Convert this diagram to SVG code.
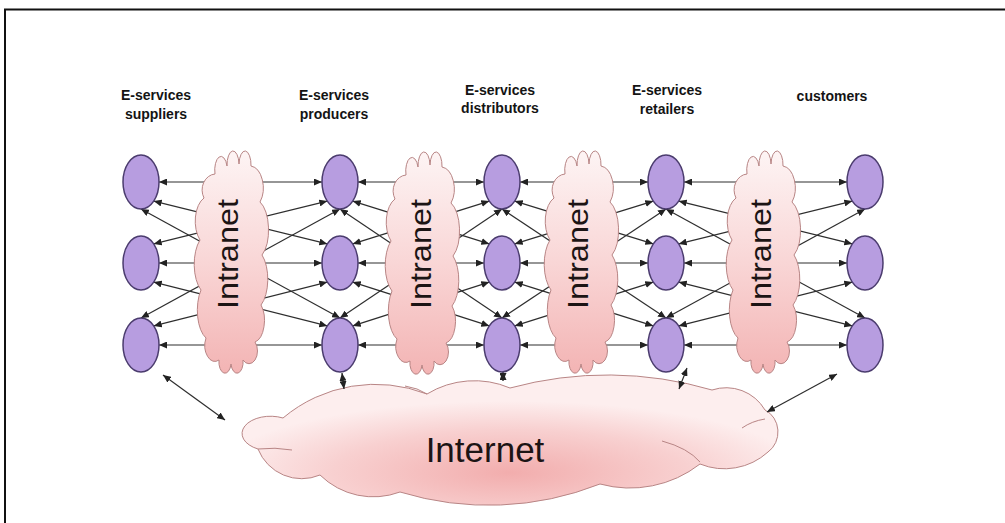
<svg xmlns="http://www.w3.org/2000/svg" width="1005" height="523" viewBox="0 0 1005 523">
<style>
.title{font-family:"Liberation Sans",Arial,sans-serif;font-weight:bold;font-size:14px;fill:#141414;text-anchor:middle}
.node{fill:#b79de0;stroke:#4b3c6e;stroke-width:1.5}
.cn{stroke:#2e2e2e;stroke-width:1.2;fill:none;marker-start:url(#ah);marker-end:url(#ah)}
.cloud{stroke:#b88585;stroke-width:1}
.intra{fill:url(#gIntra)}
.cloudlbl{font-family:"Liberation Sans",Arial,sans-serif;fill:#1c1414;text-anchor:middle}
.crease{fill:none;stroke:#b88585;stroke-width:1}
</style>
<defs>
<marker id="ah" viewBox="0 0 8 7" refX="8" refY="3.5" markerWidth="8" markerHeight="7" markerUnits="userSpaceOnUse" orient="auto-start-reverse">
<path d="M0,0 L8,3.5 L0,7 z" fill="#222"/>
</marker>
<linearGradient id="gIntra" x1="0" y1="0" x2="0" y2="1">
<stop offset="0" stop-color="#fdf4f4"/>
<stop offset="0.5" stop-color="#f9d6d6"/>
<stop offset="1" stop-color="#f3b4b4"/>
</linearGradient>
<radialGradient id="gInter" cx="0.5" cy="0.75" r="0.55">
<stop offset="0" stop-color="#f2adad"/>
<stop offset="0.6" stop-color="#f8d0d0"/>
<stop offset="1" stop-color="#fdeeee"/>
</radialGradient>
<path id="intraShape" d="M -27,-62 A 14 16 0 0 1 -16,-86 A 6 13 0 0 1 -4,-94 A 6 14 0 0 1 8,-96 A 6 14 0 0 1 20,-94 A 14 22 0 0 1 29,-58 A 14 30 0 0 1 31,-5 A 14 30 0 0 1 30,45 A 12 22 0 0 1 24,82 A 8 12 0 0 1 12,100 A 6 11 0 0 1 0,104 A 6 11 0 0 1 -12,100 A 10 16 0 0 1 -25,78 A 14 30 0 0 1 -30,30 A 14 30 0 0 1 -31,-20 A 14 25 0 0 1 -27,-62 Z"/>
</defs>

<path d="M5,523 V9.5 H1005" fill="none" stroke="#111" stroke-width="2"/>

<g id="titles">
<text class="title" x="156" y="100">E-services</text>
<text class="title" x="156" y="119">suppliers</text>
<text class="title" x="334" y="100">E-services</text>
<text class="title" x="334" y="119">producers</text>
<text class="title" x="500" y="95">E-services</text>
<text class="title" x="500" y="113">distributors</text>
<text class="title" x="667" y="95">E-services</text>
<text class="title" x="667" y="114">retailers</text>
<text class="title" x="832" y="101">customers</text>
</g>

<g id="internet">
<path class="cloud" fill="url(#gInter)" d="M283,418 A143 143 0 0 1 427,394 A91 91 0 0 1 510,388 A371 371 0 0 1 712,390 A45 45 0 0 1 765,410 A22 24 0 0 1 768,452 A65 65 0 0 1 700,464 A114 114 0 0 1 600,484 A303 303 0 0 1 400,492 A76 76 0 0 1 320,475 A47 47 0 0 1 258,449 A28 17 0 1 1 283,418 Z"/>
<path class="crease" d="M258,449 Q275,447 292,450"/>
<path class="crease" d="M662,441 Q688,448 700,462"/>
<path class="crease" d="M742,428 Q752,421 765,419"/>
<path class="crease" d="M405,386 Q418,388 427,394"/>
<text class="cloudlbl" x="485" y="462" font-size="35">Internet</text>
</g>

<g id="connectors">
<!-- suppliers - producers -->
<line class="cn" x1="159" y1="182" x2="322" y2="182"/>
<line class="cn" x1="159" y1="263" x2="322" y2="263"/>
<line class="cn" x1="159" y1="345" x2="322" y2="345"/>
<line class="cn" x1="153.7" y1="201.1" x2="327.3" y2="243.9"/>
<line class="cn" x1="141" y1="209" x2="340" y2="318"/>
<line class="cn" x1="153.7" y1="243.9" x2="327.3" y2="201.1"/>
<line class="cn" x1="153.7" y1="282.1" x2="327.3" y2="325.9"/>
<line class="cn" x1="141" y1="318" x2="340" y2="209"/>
<line class="cn" x1="153.7" y1="325.9" x2="327.3" y2="282.1"/>
<!-- producers - distributors -->
<line class="cn" x1="358" y1="182" x2="484" y2="182"/>
<line class="cn" x1="358" y1="263" x2="484" y2="263"/>
<line class="cn" x1="358" y1="345" x2="484" y2="345"/>
<line class="cn" x1="352.7" y1="201.1" x2="489.3" y2="243.9"/>
<line class="cn" x1="340" y1="209" x2="502" y2="318"/>
<line class="cn" x1="352.7" y1="243.9" x2="489.3" y2="201.1"/>
<line class="cn" x1="352.7" y1="282.1" x2="489.3" y2="325.9"/>
<line class="cn" x1="340" y1="318" x2="502" y2="209"/>
<line class="cn" x1="352.7" y1="325.9" x2="489.3" y2="282.1"/>
<!-- distributors - retailers -->
<line class="cn" x1="520" y1="182" x2="648" y2="182"/>
<line class="cn" x1="520" y1="263" x2="648" y2="263"/>
<line class="cn" x1="520" y1="345" x2="648" y2="345"/>
<line class="cn" x1="514.7" y1="201.1" x2="653.3" y2="243.9"/>
<line class="cn" x1="502" y1="209" x2="666" y2="318"/>
<line class="cn" x1="514.7" y1="243.9" x2="653.3" y2="201.1"/>
<line class="cn" x1="514.7" y1="282.1" x2="653.3" y2="325.9"/>
<line class="cn" x1="502" y1="318" x2="666" y2="209"/>
<line class="cn" x1="514.7" y1="325.9" x2="653.3" y2="282.1"/>
<!-- retailers - customers -->
<line class="cn" x1="684" y1="182" x2="847" y2="182"/>
<line class="cn" x1="684" y1="263" x2="847" y2="263"/>
<line class="cn" x1="684" y1="345" x2="847" y2="345"/>
<line class="cn" x1="678.7" y1="201.1" x2="852.3" y2="243.9"/>
<line class="cn" x1="666" y1="209" x2="865" y2="318"/>
<line class="cn" x1="678.7" y1="243.9" x2="852.3" y2="201.1"/>
<line class="cn" x1="678.7" y1="282.1" x2="852.3" y2="325.9"/>
<line class="cn" x1="666" y1="318" x2="865" y2="209"/>
<line class="cn" x1="678.7" y1="325.9" x2="852.3" y2="282.1"/>
<!-- to Internet -->
<line class="cn" x1="163" y1="375" x2="225" y2="420"/>
<line class="cn" x1="342" y1="373" x2="344" y2="389"/>
<line class="cn" x1="503" y1="372" x2="503" y2="381"/>
<line class="cn" x1="687" y1="368" x2="679" y2="389"/>
<line class="cn" x1="837" y1="374" x2="767" y2="412"/>
</g>

<g id="intranet-1">
<use href="#intraShape" class="cloud intra" transform="translate(231,260)"/>
<text class="cloudlbl" font-size="30" textLength="110" lengthAdjust="spacingAndGlyphs" transform="translate(238,254) rotate(-90)">Intranet</text>
</g>
<g id="intranet-2">
<use href="#intraShape" class="cloud intra" transform="translate(422,261)"/>
<text class="cloudlbl" font-size="30" textLength="110" lengthAdjust="spacingAndGlyphs" transform="translate(431,254) rotate(-90)">Intranet</text>
</g>
<g id="intranet-3">
<use href="#intraShape" class="cloud intra" transform="translate(581,260)"/>
<text class="cloudlbl" font-size="30" textLength="110" lengthAdjust="spacingAndGlyphs" transform="translate(588,254) rotate(-90)">Intranet</text>
</g>
<g id="intranet-4">
<use href="#intraShape" class="cloud intra" transform="translate(763,260)"/>
<text class="cloudlbl" font-size="30" textLength="110" lengthAdjust="spacingAndGlyphs" transform="translate(771,254) rotate(-90)">Intranet</text>
</g>

<g id="supplier-1"><ellipse class="node" cx="141" cy="182" rx="18" ry="27"/></g>
<g id="supplier-2"><ellipse class="node" cx="141" cy="263" rx="18" ry="27"/></g>
<g id="supplier-3"><ellipse class="node" cx="141" cy="345" rx="18" ry="27"/></g>
<g id="producer-1"><ellipse class="node" cx="340" cy="182" rx="18" ry="27"/></g>
<g id="producer-2"><ellipse class="node" cx="340" cy="263" rx="18" ry="27"/></g>
<g id="producer-3"><ellipse class="node" cx="340" cy="345" rx="18" ry="27"/></g>
<g id="distributor-1"><ellipse class="node" cx="502" cy="182" rx="18" ry="27"/></g>
<g id="distributor-2"><ellipse class="node" cx="502" cy="263" rx="18" ry="27"/></g>
<g id="distributor-3"><ellipse class="node" cx="502" cy="345" rx="18" ry="27"/></g>
<g id="retailer-1"><ellipse class="node" cx="666" cy="182" rx="18" ry="27"/></g>
<g id="retailer-2"><ellipse class="node" cx="666" cy="263" rx="18" ry="27"/></g>
<g id="retailer-3"><ellipse class="node" cx="666" cy="345" rx="18" ry="27"/></g>
<g id="customer-1"><ellipse class="node" cx="865" cy="182" rx="18" ry="27"/></g>
<g id="customer-2"><ellipse class="node" cx="865" cy="263" rx="18" ry="27"/></g>
<g id="customer-3"><ellipse class="node" cx="865" cy="345" rx="18" ry="27"/></g>
</svg>
